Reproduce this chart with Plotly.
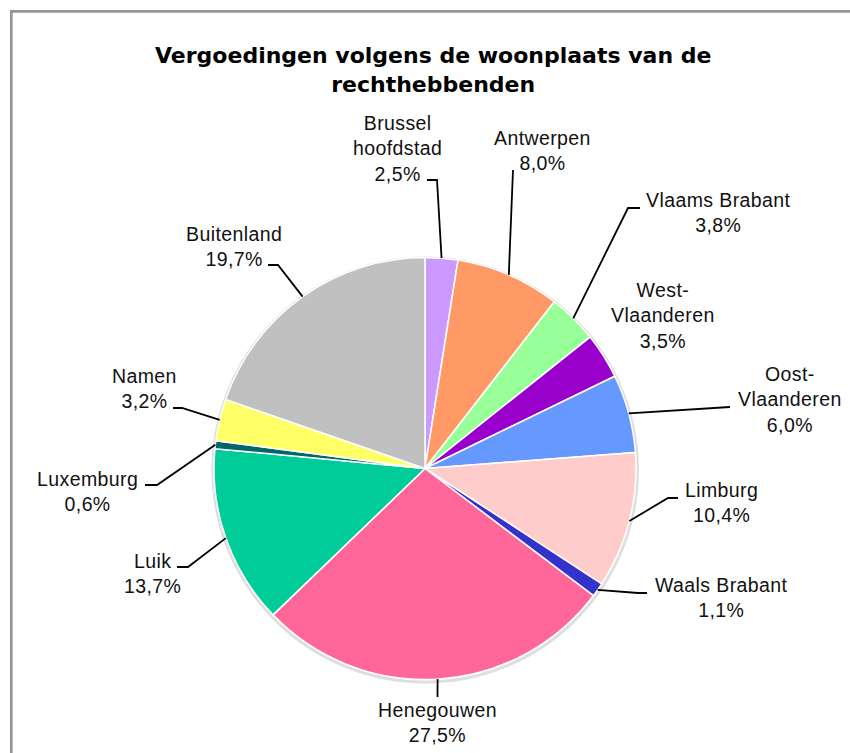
import math
import plotly.graph_objects as go

# Share of compensations by place of residence (%), clockwise from 12 o'clock
categories = ["Brussel<br>hoofdstad", "Antwerpen", "Vlaams Brabant", "West-<br>Vlaanderen",
              "Oost-<br>Vlaanderen", "Limburg", "Waals Brabant", "Henegouwen", "Luik",
              "Luxemburg", "Namen", "Buitenland"]
shares = [2.5, 8.0, 3.8, 3.5, 6.0, 10.4, 1.1, 27.5, 13.7, 0.6, 3.2, 19.7]
colors = ["#CC99FF", "#FF9966", "#99FF99", "#9900CC", "#6699FF", "#FFCCCC",
          "#3333CC", "#FF6699", "#00CC99", "#006666", "#FFFF66", "#C0C0C0"]

title_lines = ["Vergoedingen volgens de woonplaats van de", "rechthebbenden"]

# Page geometry (pixels)
W, H = 850, 753
CX, CY, R = 425.0, 468.5, 211.0

# Label centres and leader-line bends, as pixel offsets from the pie centre
label_offsets = [(-28, -320.5), (117, -318.5), (293, -255.5), (238, -153.5),
                 (365, -69.5), (296, 34.5), (296, 128.5), (12, 253.5),
                 (-273, 104.5), (-338, 22.5), (-281, -80.5), (-191, -221.5)]
leader_bends = [[(12, -288.5), (2, -288.5)], [(88, -298.5)],
                [(203, -260.5), (215, -260.5)], [],
                [(305, -61.5)], [(243, 29.5), (253, 29.5)],
                [(213, 124.5), (222, 124.5)], [(12.5, 228.5)],
                [(-237, 98.5), (-248, 98.5)], [(-268, 16.5), (-280, 16.5)],
                [(-243, -60.5), (-252, -60.5)], [(-147, -203.5), (-157, -203.5)]]


def px(x):
    return x / W


def py(y):
    return 1 - y / H


def spaced(text, ls):
    return "<br>".join(f'<span style="letter-spacing:{ls}px">{t}</span>'
                       for t in text.split("<br>"))


fig = go.Figure()

fig.add_trace(go.Pie(
    labels=[c.replace("<br>", " ") for c in categories],
    values=shares,
    sort=False,
    direction="clockwise",
    rotation=0,
    textinfo="none",
    hoverinfo="label+percent",
    showlegend=False,
    marker=dict(colors=colors, line=dict(color="white", width=1.5)),
    domain=dict(x=[px(CX - R), px(CX + R)], y=[py(CY + R), py(CY - R)]),
))

shapes = []
# chart frame
shapes.append(dict(type="rect", xref="paper", yref="paper",
                   x0=px(11.3), y0=py(11.3), x1=px(W + 20), y1=py(H + 20),
                   line=dict(color="#959595", width=2.7), fillcolor="rgba(0,0,0,0)",
                   layer="below"))
# soft shadow round the pie
shapes.append(dict(type="circle", xref="paper", yref="paper",
                   x0=px(CX - R - 1), y0=py(CY + R + 2.5), x1=px(CX + R + 1.5), y1=py(CY - R + 0.5),
                   line=dict(color="rgba(0,0,0,0.13)", width=3), fillcolor="rgba(0,0,0,0)",
                   layer="below"))

annotations = []
total = sum(shares)
cum = 0.0
for name, v, (ldx, ldy), bends in zip(categories, shares, label_offsets, leader_bends):
    theta = 2 * math.pi * (cum + v / 2) / total
    cum += v
    ax, ay = CX + R * math.sin(theta), CY - R * math.cos(theta)
    if bends:
        pts = [(ax, ay)] + [(CX + dx, CY + dy) for dx, dy in bends]
        path = "M " + " L ".join(f"{px(x):.5f},{py(y):.5f}" for x, y in pts)
        shapes.append(dict(type="path", xref="paper", yref="paper", path=path,
                           line=dict(color="black", width=1.8)))
    pct = f"{v:.1f}".replace(".", ",") + "%"
    annotations.append(dict(
        x=px(CX + ldx), y=py(CY + ldy), xref="paper", yref="paper",
        text=spaced(f"{name}<br>{pct}", 0.4), showarrow=False,
        xanchor="center", yanchor="middle", align="center",
        font=dict(family="Liberation Sans, Arial", size=19.5, color="#111111"),
    ))

annotations.append(dict(
    x=px(433), y=py(70), xref="paper", yref="paper",
    text="<b>" + "<br>".join(title_lines) + "</b>", showarrow=False,
    xanchor="center", yanchor="middle", align="center",
    font=dict(family="DejaVu Sans", size=22, color="black"),
))

fig.update_layout(
    width=W, height=H,
    margin=dict(l=0, r=0, t=0, b=0),
    paper_bgcolor="white", plot_bgcolor="white",
    shapes=shapes, annotations=annotations,
)

fig.write_html("out.html")
